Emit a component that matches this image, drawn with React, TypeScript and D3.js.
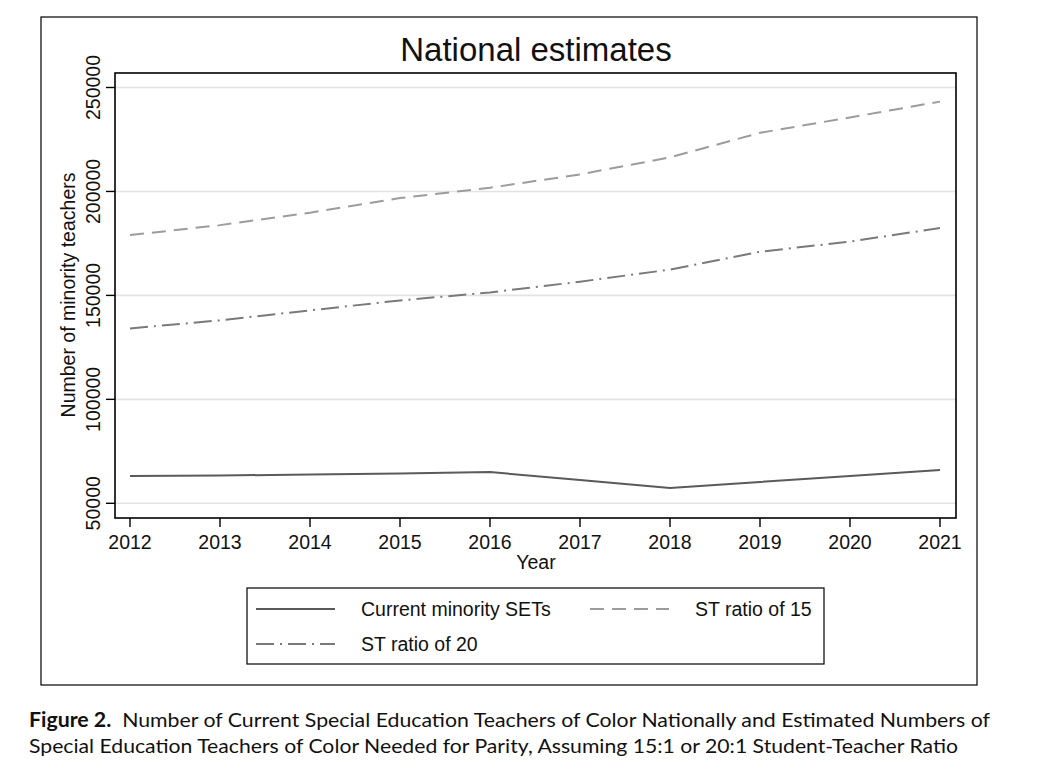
import React, { useEffect } from 'react';
import * as d3 from 'd3';

const years = [2012, 2013, 2014, 2015, 2016, 2017, 2018, 2019, 2020, 2021];
const currentSETs = [63100, 63400, 63800, 64300, 65000, 61200, 57400, 60300, 63100, 66000];
const ratio15 = [179000, 183800, 189800, 196800, 201800, 208200, 216400, 228200, 235600, 243200];
const ratio20 = [134100, 138000, 142800, 147600, 151400, 156600, 162400, 171000, 175900, 182400];
const yTicks = [50000, 100000, 150000, 200000, 250000];

const FONT = '"Liberation Sans", Arial, Helvetica, sans-serif';

const App: React.FC = () => {
  useEffect(() => {
    document.body.style.margin = '0';
  }, []);

  const x = d3.scaleLinear().domain([2012, 2021]).range([130, 940]);
  const y = d3.scaleLinear().domain([50000, 250000]).range([503.3, 87.5]);

  const plot = { left: 115, top: 73, right: 956, bottom: 518 };

  const line = d3.line<number>()
    .x((_, i) => x(years[i]))
    .y(d => y(d));

  const series = [
    { name: 'Current minority SETs', values: currentSETs, color: '#5a5a5a', dash: undefined },
    { name: 'ST ratio of 15', values: ratio15, color: '#9c9c9c', dash: '14,8' },
    { name: 'ST ratio of 20', values: ratio20, color: '#7a7a7a', dash: '18,6,2,6' },
  ];

  return (
    <svg width={1044} height={771} style={{ display: 'block' }} fontFamily={FONT}>
      <rect x={0} y={0} width={1044} height={771} fill="#fff" />
      <rect x={41} y={17} width={936} height={668} fill="none" stroke="#000" strokeWidth={1.2} />

      <text x={536} y={61} textAnchor="middle" fontSize={33} fill="#111">National estimates</text>

      {/* grid */}
      {yTicks.map(t => (
        <line key={t} x1={plot.left} x2={plot.right} y1={y(t)} y2={y(t)} stroke="#e3e3e3" strokeWidth={1.6} />
      ))}

      {/* series */}
      {series.map(s => (
        <path key={s.name} d={line(s.values) || ''} fill="none" stroke={s.color} strokeWidth={2}
          strokeDasharray={s.dash} />
      ))}

      {/* plot frame */}
      <rect x={plot.left} y={plot.top} width={plot.right - plot.left} height={plot.bottom - plot.top}
        fill="none" stroke="#000" strokeWidth={1.6} />

      {/* y axis */}
      {yTicks.map(t => (
        <g key={t}>
          <line x1={plot.left - 9} x2={plot.left} y1={y(t)} y2={y(t)} stroke="#000" strokeWidth={1.4} />
          <text transform={`translate(${plot.left - 15},${y(t)}) rotate(-90)`} textAnchor="middle"
            fontSize={19.5} fill="#111">{t}</text>
        </g>
      ))}
      <text transform={`translate(75,${295}) rotate(-90)`} textAnchor="middle" fontSize={19.5} fill="#111">
        Number of minority teachers
      </text>

      {/* x axis */}
      {years.map(yr => (
        <g key={yr}>
          <line x1={x(yr)} x2={x(yr)} y1={plot.bottom} y2={plot.bottom + 9} stroke="#000" strokeWidth={1.4} />
          <text x={x(yr)} y={plot.bottom + 31} textAnchor="middle" fontSize={19.5} fill="#111">{yr}</text>
        </g>
      ))}
      <text x={536} y={569} textAnchor="middle" fontSize={19.5} fill="#111">Year</text>

      {/* legend */}
      <rect x={247} y={588} width={577} height={76} fill="#fff" stroke="#000" strokeWidth={1.2} />
      {series.map((s, i) => {
        const lx = i === 1 ? 590 : 256;
        const ly = i === 2 ? 644 : 609;
        return (
          <g key={s.name}>
            <line x1={lx} x2={lx + 79} y1={ly} y2={ly} stroke={s.color} strokeWidth={2} strokeDasharray={s.dash} />
            <text x={lx + 105} y={ly + 7} fontSize={19.5} fill="#111">{s.name}</text>
          </g>
        );
      })}

      {/* caption */}
      <text x={29} y={727} fontSize={20} fill="#111" fontFamily='Lato, "Open Sans", sans-serif'
        textLength={961} lengthAdjust="spacingAndGlyphs">
        <tspan fontWeight="bold">Figure 2.</tspan>
        <tspan>{'\u00a0 Number of Current Special Education Teachers of Color Nationally and Estimated Numbers of'}</tspan>
      </text>
      <text x={29} y={753} fontSize={20} fill="#111" fontFamily='Lato, "Open Sans", sans-serif'
        textLength={929} lengthAdjust="spacingAndGlyphs">
        Special Education Teachers of Color Needed for Parity, Assuming 15:1 or 20:1 Student-Teacher Ratio
      </text>
    </svg>
  );
};

export default App;
